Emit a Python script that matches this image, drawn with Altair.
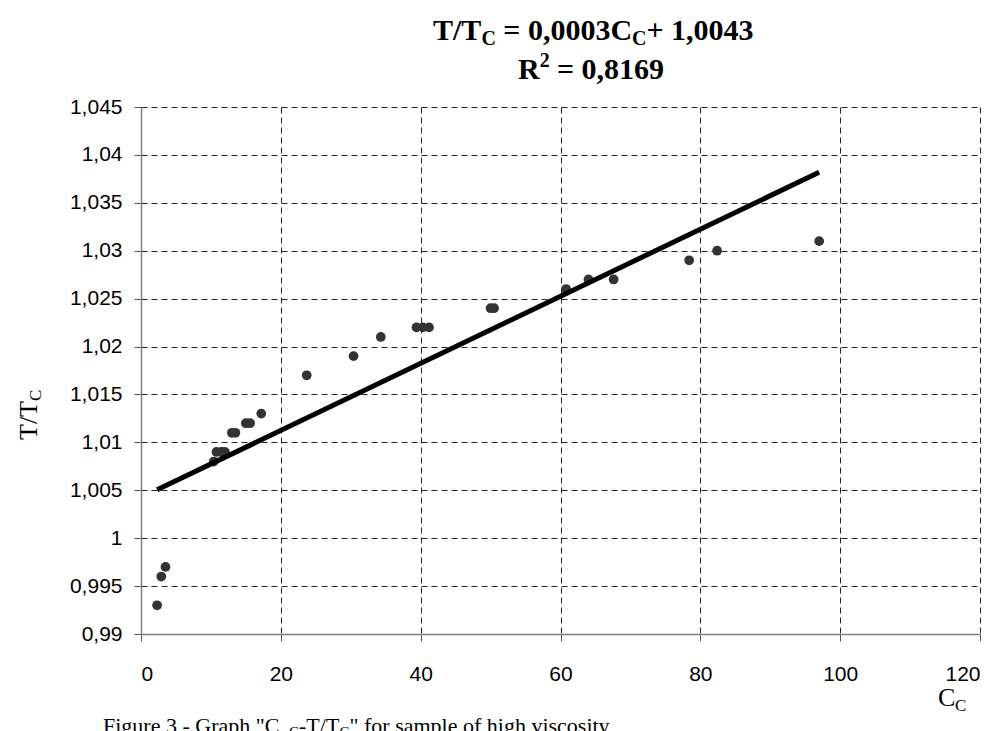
import altair as alt
import pandas as pd

# Data (C_C vs T/T_C)
cc = [2.3, 2.9, 3.5, 10.4, 10.8, 11.5, 12.0, 13.0, 13.5, 15.0, 15.6, 17.2,
      23.7, 30.4, 34.3, 39.4, 40.3, 41.2, 50.0, 50.5, 60.8, 64.0, 67.6,
      78.4, 82.4, 97.0]
tt = [0.993, 0.996, 0.997, 1.008, 1.009, 1.009, 1.009, 1.011, 1.011, 1.012,
      1.012, 1.013, 1.017, 1.019, 1.021, 1.022, 1.022, 1.022, 1.024, 1.024,
      1.026, 1.027, 1.027, 1.029, 1.030, 1.031]

x_ticks = [0, 20, 40, 60, 80, 100, 120]
y_ticks = [0.99, 0.995, 1.0, 1.005, 1.01, 1.015, 1.02, 1.025, 1.03, 1.035,
           1.04, 1.045]

df = pd.DataFrame({"Cc": cc, "T": tt})

label_expr = "replace(format(datum.value, '~g'), '.', ',')"

xenc = alt.X("Cc:Q",
             scale=alt.Scale(domain=[0, 120], nice=False, zero=False),
             axis=alt.Axis(values=x_ticks, title=None, labelExpr=label_expr,
                           labelPadding=22, tickSize=7))
yenc = alt.Y("T:Q",
             scale=alt.Scale(domain=[0.99, 1.045], nice=False, zero=False),
             axis=alt.Axis(values=y_ticks, title=None, labelExpr=label_expr,
                           labelPadding=12, tickSize=7))

base = alt.Chart(df)
points = base.mark_circle(size=95, color="#333333", opacity=1).encode(
    x=xenc, y=yenc)
trend = base.transform_regression("Cc", "T").mark_line(
    color="black", strokeWidth=5).encode(x="Cc:Q", y="T:Q")


def txt(s, x, y, size, bold=False, angle=0):
    return alt.Chart(pd.DataFrame({"s": [s]})).mark_text(
        align="left", baseline="alphabetic", font="Liberation Serif",
        fontSize=size, fontWeight="bold" if bold else "normal",
        angle=angle, color="#000000").encode(
        x=alt.value(x), y=alt.value(y), text="s:N")


# Title line 1: T/T_C = 0,0003C_C+ 1,0043
y1 = -67
y2 = -28
title_parts = [
    txt("T/T", 292, y1, 30, True),
    txt("C", 340.4, y1 + 5, 20, True),
    txt("= 0,0003C", 362.3, y1, 30, True),
    txt("C", 491.1, y1 + 5, 20, True),
    txt("+ 1,0043", 505.5, y1, 30, True),
    # Line 2: R^2 = 0,8169
    txt("R", 377, y2, 30, True),
    txt("2", 398.7, y2 - 12, 20, True),
    txt("= 0,8169", 416, y2, 30, True),
]

# Axis titles
axis_titles = [
    txt("T/T", -104, 333, 26, False, 270),
    txt("C", -100, 294, 17, False, 270),
    txt("C", 797, 599, 26, False),
    txt("C", 814, 604, 17, False),
]

# Caption (cut at bottom in the reference)
caption = [
    txt("Figure 3 - Graph \"C", -38, 626, 22),
    txt("C", 148, 630, 15),
    txt("-T/T", 158, 626, 22),
    txt("C", 198.5, 630, 15),
    txt("\" for sample of high viscosity", 208.5, 626, 22),
]

chart = alt.layer(points, trend, *title_parts, *axis_titles, *caption).properties(
    width=839, height=527,
    autosize=alt.AutoSizeParams(type="none"),
    padding={"left": 133, "top": 99, "right": 20, "bottom": 110},
    background="white",
).configure_view(stroke=None).configure_axis(
    labelFont="Liberation Sans", labelFontSize=21, labelColor="black",
    grid=True, gridColor="black", gridDash=[6, 4], gridWidth=1, gridOpacity=0.85,
    domainColor="#808080", domainWidth=1.5, tickColor="#555555",
)

chart.save("out.html", embed_options={"renderer": "svg", "actions": False})
